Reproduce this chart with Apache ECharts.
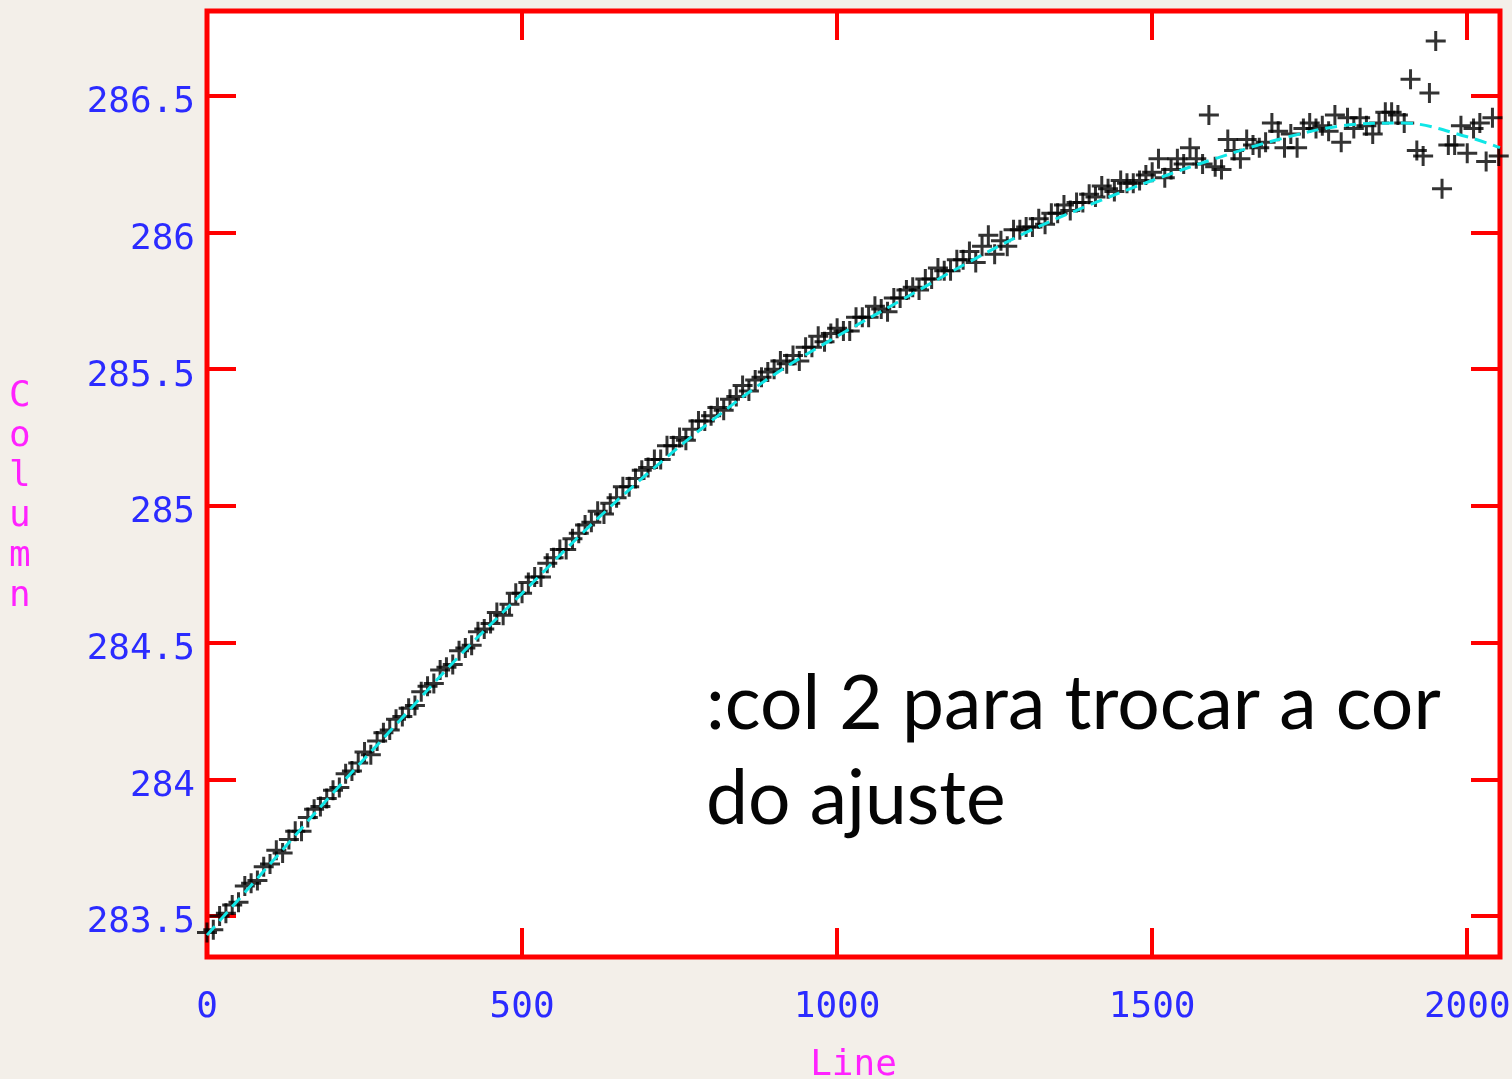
<!DOCTYPE html>
<html>
<head>
<meta charset="utf-8">
<title>Column vs Line</title>
<script src="https://cdn.jsdelivr.net/npm/echarts@6/dist/echarts.min.js"></script>
<style>
  html, body { margin: 0; padding: 0; background: #f3efe9; }
  #chart { width: 1512px; height: 1079px; }
</style>
</head>
<body>
<div id="chart"></div>
<script>
// Measured trace positions: line number and column
const lineValues = [
  0, 10, 20, 30, 40, 50, 60, 70, 80, 90,
  100, 110, 120, 130, 140, 150, 160, 170, 180, 190,
  200, 210, 220, 230, 240, 250, 260, 270, 280, 290,
  300, 310, 320, 330, 340, 350, 360, 370, 380, 390,
  400, 410, 420, 430, 440, 450, 460, 470, 480, 490,
  500, 510, 520, 530, 540, 550, 560, 570, 580, 590,
  600, 610, 620, 630, 640, 650, 660, 670, 680, 690,
  700, 710, 720, 730, 740, 750, 760, 770, 780, 790,
  800, 810, 820, 830, 840, 850, 860, 870, 880, 890,
  900, 910, 920, 930, 940, 950, 960, 970, 980, 990,
  1000, 1010, 1020, 1030, 1040, 1050, 1060, 1070, 1080, 1090,
  1100, 1110, 1120, 1130, 1140, 1150, 1160, 1170, 1180, 1190,
  1200, 1210, 1220, 1230, 1240, 1250, 1260, 1270, 1280, 1290,
  1300, 1310, 1320, 1330, 1340, 1350, 1360, 1370, 1380, 1390,
  1400, 1410, 1420, 1430, 1440, 1450, 1460, 1470, 1480, 1490,
  1500, 1510, 1520, 1530, 1540, 1550, 1560, 1570, 1580, 1590,
  1600, 1610, 1620, 1630, 1640, 1650, 1660, 1670, 1680, 1690,
  1700, 1710, 1720, 1730, 1740, 1750, 1760, 1770, 1780, 1790,
  1800, 1810, 1820, 1830, 1840, 1850, 1860, 1870, 1880, 1890,
  1900, 1910, 1920, 1930, 1940, 1950, 1960, 1970, 1980, 1990,
  2000, 2010, 2020, 2030, 2040, 2050
];
const columnValues = [
  283.44, 283.45, 283.50, 283.51, 283.54, 283.55, 283.61, 283.62, 283.63, 283.68,
  283.69, 283.74, 283.73, 283.78, 283.81, 283.81, 283.86, 283.89, 283.90, 283.93,
  283.96, 283.97, 284.02, 284.03, 284.06, 284.10, 284.09, 284.14, 284.17, 284.18,
  284.22, 284.23, 284.26, 284.27, 284.32, 284.34, 284.35, 284.40, 284.41, 284.42,
  284.47, 284.48, 284.49, 284.54, 284.55, 284.57, 284.61, 284.60, 284.64, 284.68,
  284.68, 284.72, 284.74, 284.74, 284.79, 284.81, 284.84, 284.84, 284.88, 284.90,
  284.93, 284.94, 284.98, 284.97, 285.01, 285.03, 285.07, 285.07, 285.10, 285.13,
  285.14, 285.17, 285.17, 285.22, 285.22, 285.25, 285.24, 285.28, 285.31, 285.31,
  285.33, 285.36, 285.35, 285.39, 285.40, 285.44, 285.42, 285.46, 285.47, 285.49,
  285.50, 285.53, 285.52, 285.55, 285.53, 285.58, 285.58, 285.62, 285.60, 285.63,
  285.65, 285.64, 285.64, 285.69, 285.69, 285.69, 285.73, 285.72, 285.71, 285.76,
  285.76, 285.79, 285.80, 285.79, 285.83, 285.83, 285.87, 285.86, 285.86, 285.90,
  285.90, 285.93, 285.89, 285.95, 285.99, 285.92, 285.97, 285.95, 286.01, 286.01,
  286.02, 286.02, 286.05, 286.03, 286.07, 286.07, 286.10, 286.08, 286.11, 286.11,
  286.14, 286.13, 286.17, 286.16, 286.15, 286.19, 286.18, 286.18, 286.19, 286.21,
  286.22, 286.27, 286.20, 286.23, 286.27, 286.25, 286.31, 286.27, 286.25, 286.43,
  286.24, 286.23, 286.34, 286.30, 286.27, 286.34, 286.32, 286.31, 286.33, 286.40,
  286.37, 286.31, 286.36, 286.31, 286.38, 286.40, 286.38, 286.39, 286.37, 286.43,
  286.33, 286.42, 286.38, 286.42, 286.39, 286.36, 286.40, 286.44, 286.44, 286.43,
  286.40, 286.56, 286.30, 286.28, 286.51, 286.70, 286.16, 286.32, 286.32, 286.39,
  286.29, 286.38, 286.40, 286.26, 286.42, 286.28
];

// Fitted trace (drawn as a smooth dashed curve)
const fitLine = [0, 100, 200, 300, 400, 500, 600, 700, 800, 900, 1000,
  1100, 1200, 1300, 1400, 1500, 1600, 1700, 1800, 1900, 2000, 2052];
const fitColumn = [283.43, 283.69, 283.95, 284.20, 284.45, 284.68, 284.91, 285.12, 285.31, 285.48, 285.62,
  285.75, 285.88, 286.00, 286.10, 286.19, 286.27, 286.34, 286.39, 286.40, 286.35, 286.31];

// Tick positions
const lineTicks = [0, 500, 1000, 1500, 2000];
const columnTicks = [283.5, 284, 284.5, 285, 285.5, 286, 286.5];

const frameRed = '#ff0000';
const labelBlue = '#2b2bff';
const nameMagenta = '#ff22ff';
const monoFont = 'DejaVu Sans Mono';

const points = lineValues.map((x, i) => [x, columnValues[i]]);
const fit = fitLine.map((x, i) => [x, fitColumn[i]]);

const tickStyle = { show: true, inside: true, length: 29, lineStyle: { color: frameRed, width: 4 } };
const plainNumber = v => String(v);

function xAxisDef(position, withLabels) {
  return {
    type: 'value', position: position, min: 0, max: 2052, interval: 500,
    axisLine: { show: false, onZero: false },
    axisTick: Object.assign({}, tickStyle, { customValues: lineTicks }),
    splitLine: { show: false },
    axisLabel: {
      show: withLabels, customValues: lineTicks, margin: 33, formatter: plainNumber,
      color: labelBlue, fontFamily: monoFont, fontSize: 36
    },
    name: withLabels ? 'Line' : '',
    nameLocation: 'middle', nameGap: 91,
    nameTextStyle: { color: nameMagenta, fontFamily: monoFont, fontSize: 36 }
  };
}
function yAxisDef(position, withLabels) {
  return {
    type: 'value', position: position, min: 283.35, max: 286.81,
    axisLine: { show: false, onZero: false },
    axisTick: Object.assign({}, tickStyle, { customValues: columnTicks }),
    splitLine: { show: false },
    axisLabel: {
      show: withLabels, customValues: columnTicks, margin: 12, formatter: plainNumber,
      color: labelBlue, fontFamily: monoFont, fontSize: 36,
      verticalAlign: 'top', lineHeight: 14
    }
  };
}

const chart = echarts.init(document.getElementById('chart'), null, { renderer: 'canvas' });
chart.setOption({
  backgroundColor: '#f3efe9',
  animation: false,
  grid: {
    left: 207, right: 12, top: 11, bottom: 122,
    show: true, backgroundColor: '#ffffff',
    borderColor: frameRed, borderWidth: 5,
    outerBoundsMode: 'none'
  },
  xAxis: [xAxisDef('bottom', true), xAxisDef('top', false)],
  yAxis: [yAxisDef('left', true), yAxisDef('right', false)],
  series: [
    {
      type: 'scatter',
      data: points,
      symbol: 'path://M8.5,0H11.5V8.5H20V11.5H11.5V20H8.5V11.5H0V8.5H8.5Z',
      symbolSize: 20,
      itemStyle: { color: '#000000' },
      z: 2
    },
    {
      type: 'line',
      data: fit,
      smooth: 0.35,
      showSymbol: false,
      lineStyle: { color: '#10e6e6', width: 3, type: [12, 7] },
      z: 3
    }
  ],
  graphic: [
    {
      type: 'text', left: 9, top: 377,
      style: {
        text: 'C\no\nl\nu\nm\nn', fill: nameMagenta,
        font: '36px "DejaVu Sans Mono"', lineHeight: 40, align: 'center'
      }
    },
    {
      type: 'text', left: 706, top: 657,
      style: {
        text: ':col 2 para trocar a cor\ndo ajuste', fill: '#050505',
        font: '75px Lato', lineHeight: 95
      }
    }
  ]
});
</script>
</body>
</html>
